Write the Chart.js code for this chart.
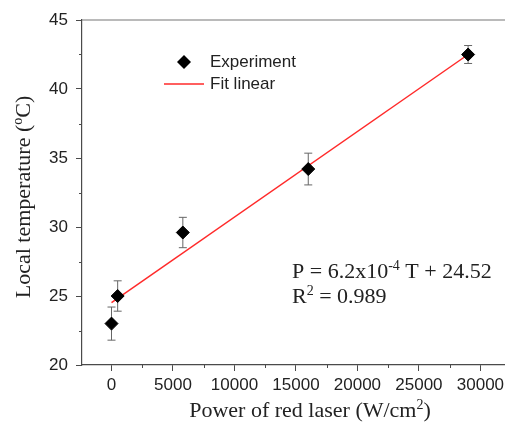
<!DOCTYPE html>
<html lang="en">
<head>
  <meta charset="UTF-8">
  <title>Local temperature vs. red laser power</title>
  <style>
    body {
      margin: 0;
      background-color: #ffffff;
    }

    #chart-box {
      width: 505px;
      height: 425px;
    }
  </style>
</head>
<body>
  <div id="chart-box">
    <canvas id="temp-chart" width="505" height="425"></canvas>
  </div>

  <script src="https://cdn.jsdelivr.net/npm/chart.js"></script>
  <script>
    // measured points (power in W/cm2, temperature in C)
    const powerValues = [0, 500, 5800, 16000, 29000];
    const tempValues = [23.0, 25.0, 29.6, 34.2, 42.5];
    const tempErrors = [1.2, 1.1, 1.1, 1.15, 0.65];

    // linear fit P = 6.2x10^-4 T + 24.52, end points
    const fitPower = [0, 29000];
    const fitTemp = [24.52, 42.5];

    const xTickValues = [0, 5000, 10000, 15000, 20000, 25000, 30000];
    const xMinorValues = [2500, 7500, 12500, 17500, 22500, 27500];
    const yTickValues = [20, 25, 30, 35, 40, 45];
    const yMinorValues = [22.5, 27.5, 32.5, 37.5, 42.5];

    const SANS = "'Liberation Sans', Arial, sans-serif";
    const SERIF = "'Liberation Serif', 'Times New Roman', serif";
    const AXIS_COLOR = '#4a4a4a';

    // draw a run of text where some pieces are superscripts
    function drawRich(ctx, parts, x, y, size, align) {
      const supSize = Math.round(size * 0.62);
      let total = 0;
      parts.forEach(p => {
        ctx.font = (p.sup ? supSize : size) + 'px ' + SERIF;
        p.w = ctx.measureText(p.t).width;
        total += p.w;
      });
      let cx = align === 'center' ? x - total / 2 : x;
      ctx.textAlign = 'left';
      ctx.textBaseline = 'alphabetic';
      parts.forEach(p => {
        ctx.font = (p.sup ? supSize : size) + 'px ' + SERIF;
        ctx.fillText(p.t, cx, p.sup ? y - size * 0.38 : y);
        cx += p.w;
      });
    }

    function diamond(ctx, x, y, r) {
      ctx.beginPath();
      ctx.moveTo(x, y - r);
      ctx.lineTo(x + r, y);
      ctx.lineTo(x, y + r);
      ctx.lineTo(x - r, y);
      ctx.closePath();
      ctx.fill();
    }

    // vertical error bars with caps, under the markers
    const errorBars = {
      id: 'errorBars',
      beforeDatasetsDraw(chart) {
        const { ctx, scales: { x, y } } = chart;
        ctx.save();
        ctx.strokeStyle = '#666666';
        ctx.lineWidth = 1;
        powerValues.forEach((p, i) => {
          const px = x.getPixelForValue(p);
          const top = y.getPixelForValue(tempValues[i] + tempErrors[i]);
          const bot = y.getPixelForValue(tempValues[i] - tempErrors[i]);
          ctx.beginPath();
          ctx.moveTo(px, top);
          ctx.lineTo(px, bot);
          ctx.moveTo(px - 4, top);
          ctx.lineTo(px + 4, top);
          ctx.moveTo(px - 4, bot);
          ctx.lineTo(px + 4, bot);
          ctx.stroke();
        });
        ctx.restore();
      }
    };

    // top frame line, minor ticks, axis titles, legend and fit equation
    const extras = {
      id: 'extras',
      afterDraw(chart) {
        const { ctx, chartArea: area, scales: { x, y } } = chart;
        ctx.save();

        ctx.strokeStyle = '#777777';
        ctx.lineWidth = 1.2;
        ctx.beginPath();
        ctx.moveTo(area.left, area.top);
        ctx.lineTo(area.right, area.top);
        ctx.stroke();

        ctx.strokeStyle = AXIS_COLOR;
        ctx.lineWidth = 1;
        ctx.beginPath();
        xMinorValues.forEach(v => {
          const px = Math.round(x.getPixelForValue(v)) + 0.5;
          ctx.moveTo(px, area.bottom);
          ctx.lineTo(px, area.bottom + 3);
        });
        yMinorValues.forEach(v => {
          const py = Math.round(y.getPixelForValue(v)) + 0.5;
          ctx.moveTo(area.left, py);
          ctx.lineTo(area.left - 3, py);
        });
        ctx.stroke();

        ctx.fillStyle = '#222222';
        drawRich(ctx, [{ t: 'Power of red laser (W/cm' }, { t: '2', sup: true }, { t: ')' }],
          310, 417, 22, 'center');

        ctx.save();
        ctx.translate(30, 197);
        ctx.rotate(-Math.PI / 2);
        drawRich(ctx, [{ t: 'Local temperature (' }, { t: 'o', sup: true }, { t: 'C)' }],
          0, 0, 22, 'center');
        ctx.restore();

        drawRich(ctx, [{ t: 'P = 6.2x10' }, { t: '-4', sup: true }, { t: ' T + 24.52' }],
          292, 278, 22, 'left');
        drawRich(ctx, [{ t: 'R' }, { t: '2', sup: true }, { t: ' = 0.989' }],
          292, 303, 22, 'left');

        // legend
        const sets = chart.data.datasets;
        ctx.fillStyle = '#000000';
        diamond(ctx, 184, 62, 7);
        ctx.strokeStyle = sets[1].borderColor;
        ctx.lineWidth = 1.5;
        ctx.beginPath();
        ctx.moveTo(164, 84);
        ctx.lineTo(204, 84);
        ctx.stroke();
        ctx.fillStyle = '#222222';
        ctx.font = '17px ' + SANS;
        ctx.textAlign = 'left';
        ctx.textBaseline = 'middle';
        ctx.fillText(sets[0].label, 210, 62);
        ctx.fillText(sets[1].label, 210, 84);

        ctx.restore();
      }
    };

    const ctx = document.getElementById('temp-chart').getContext('2d');
    const tempChart = new Chart(ctx, {
      type: 'scatter',
      data: {
        datasets: [{
          label: 'Experiment',
          data: powerValues.map((p, i) => ({ x: p, y: tempValues[i] })),
          pointStyle: 'rectRot',
          pointRadius: 6.5,
          backgroundColor: '#000000',
          borderColor: '#000000',
          borderWidth: 1,
          showLine: false,
          order: 0
        }, {
          label: 'Fit linear',
          data: fitPower.map((p, i) => ({ x: p, y: fitTemp[i] })),
          showLine: true,
          pointRadius: 0,
          borderColor: '#ff2a2a',
          borderWidth: 1.5,
          order: 1
        }]
      },
      options: {
        responsive: false,
        animation: false,
        layout: {
          autoPadding: false,
          padding: { top: 20, right: 0, bottom: 0, left: 0 }
        },
        plugins: {
          legend: { display: false },
          tooltip: { enabled: false }
        },
        scales: {
          x: {
            type: 'linear',
            min: -2400,
            max: 32000,
            afterBuildTicks: scale => { scale.ticks = xTickValues.map(v => ({ value: v })); },
            afterFit: scale => {
              scale.height = 60;
              scale.paddingLeft = 0;
              scale.paddingRight = 0;
            },
            grid: { drawOnChartArea: false, drawTicks: true, tickLength: 6, color: AXIS_COLOR },
            border: { color: AXIS_COLOR, width: 1.2 },
            ticks: {
              font: { family: SANS, size: 17 },
              color: '#222222',
              padding: 4,
              maxRotation: 0,
              autoSkip: false,
              callback: v => String(v)
            }
          },
          y: {
            min: 20,
            max: 45,
            afterBuildTicks: scale => { scale.ticks = yTickValues.map(v => ({ value: v })); },
            afterFit: scale => {
              scale.width = 82;
              scale.paddingTop = 0;
              scale.paddingBottom = 0;
            },
            grid: { drawOnChartArea: false, drawTicks: true, tickLength: 6, color: AXIS_COLOR },
            border: { color: AXIS_COLOR, width: 1.2 },
            ticks: {
              font: { family: SANS, size: 17 },
              color: '#222222',
              padding: 8,
              callback: v => String(v)
            }
          }
        }
      },
      plugins: [errorBars, extras]
    });
  </script>
</body>
</html>
